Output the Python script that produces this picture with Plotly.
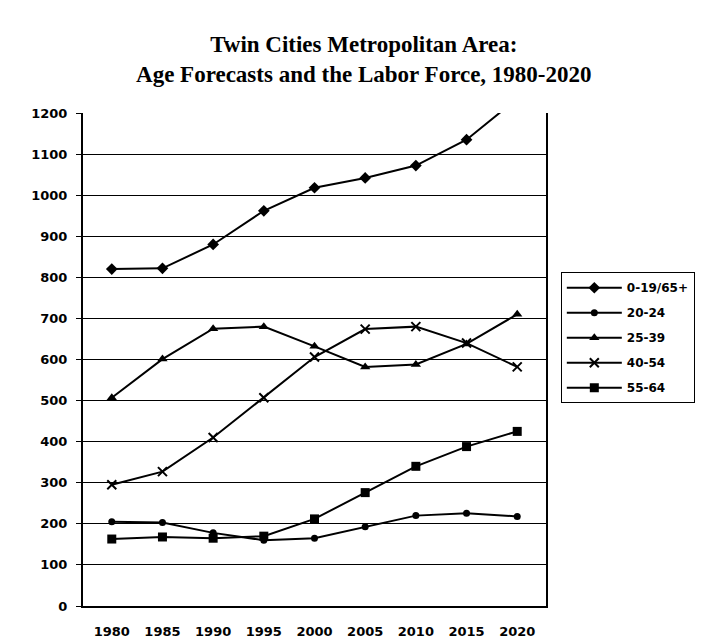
import plotly.graph_objects as go

years = ["1980", "1985", "1990", "1995", "2000", "2005", "2010", "2015", "2020"]
s_0_19_65 = [820, 822, 880, 962, 1018, 1042, 1072, 1135, 1235]
s_20_24 = [205, 203, 178, 160, 165, 193, 220, 226, 218]
s_25_39 = [507, 601, 675, 680, 632, 582, 588, 638, 710]
s_40_54 = [295, 327, 410, 507, 606, 674, 680, 640, 582]
s_55_64 = [163, 168, 165, 170, 212, 276, 340, 388, 425]
y_ticks = [0, 100, 200, 300, 400, 500, 600, 700, 800, 900, 1000, 1100, 1200]

series = [
    ("0-19/65+", s_0_19_65, "diamond", 9, 0),
    ("20-24", s_20_24, "circle", 7, 0),
    ("25-39", s_25_39, "triangle-up", 9, 0),
    ("40-54", s_40_54, "x-thin", 9, 2),
    ("55-64", s_55_64, "square", 9, 0),
]

fig = go.Figure()
for name, vals, sym, size, lw in series:
    fig.add_trace(go.Scatter(
        x=years, y=vals, name=name, legendgroup=name, mode="lines+markers",
        line=dict(color="black", width=2),
        marker=dict(symbol=sym, size=size, color="black",
                    line=dict(color="black", width=lw)),
        cliponaxis=True,
    ))

# page body adds an 8px offset, so the figure is 8px smaller each way
fig.update_layout(
    width=699, height=632,
    paper_bgcolor="white", plot_bgcolor="white",
    margin=dict(l=75, r=155, t=105, b=34),
    title=dict(
        text="<b>Twin Cities Metropolitan Area:<br>Age Forecasts and the Labor Force, 1980-2020</b>",
        x=0.509, xanchor="center", y=0.93, yanchor="top",
        font=dict(family="Liberation Serif", size=23, color="black"),
        automargin=False,
    ),
    font=dict(family="DejaVu Sans", color="black"),
    showlegend=True,
    legend=dict(
        x=1.032, y=0.677, xanchor="left", yanchor="top",
        bordercolor="black", borderwidth=1, bgcolor="white",
        font=dict(family="DejaVu Sans", size=12, color="black", weight="bold"),
        itemwidth=55, tracegroupgap=6,
    ),
)
fig.update_xaxes(
    type="category", showline=True, linecolor="black", linewidth=2,
    showgrid=False, ticks="", ticklabelstandoff=12, automargin=False,
    tickfont=dict(family="DejaVu Sans", size=13, color="black", weight="bold"),
)
fig.update_yaxes(
    range=[0, 1200], tickvals=y_ticks, showline=True, linecolor="black",
    linewidth=2, mirror=True, showgrid=True, gridcolor="black", gridwidth=1.3,
    ticks="outside", ticklen=5, tickcolor="black", zeroline=False,
    ticklabelstandoff=6, automargin=False,
    tickfont=dict(family="DejaVu Sans", size=13, color="black", weight="bold"),
)

fig.write_html("out.html")
